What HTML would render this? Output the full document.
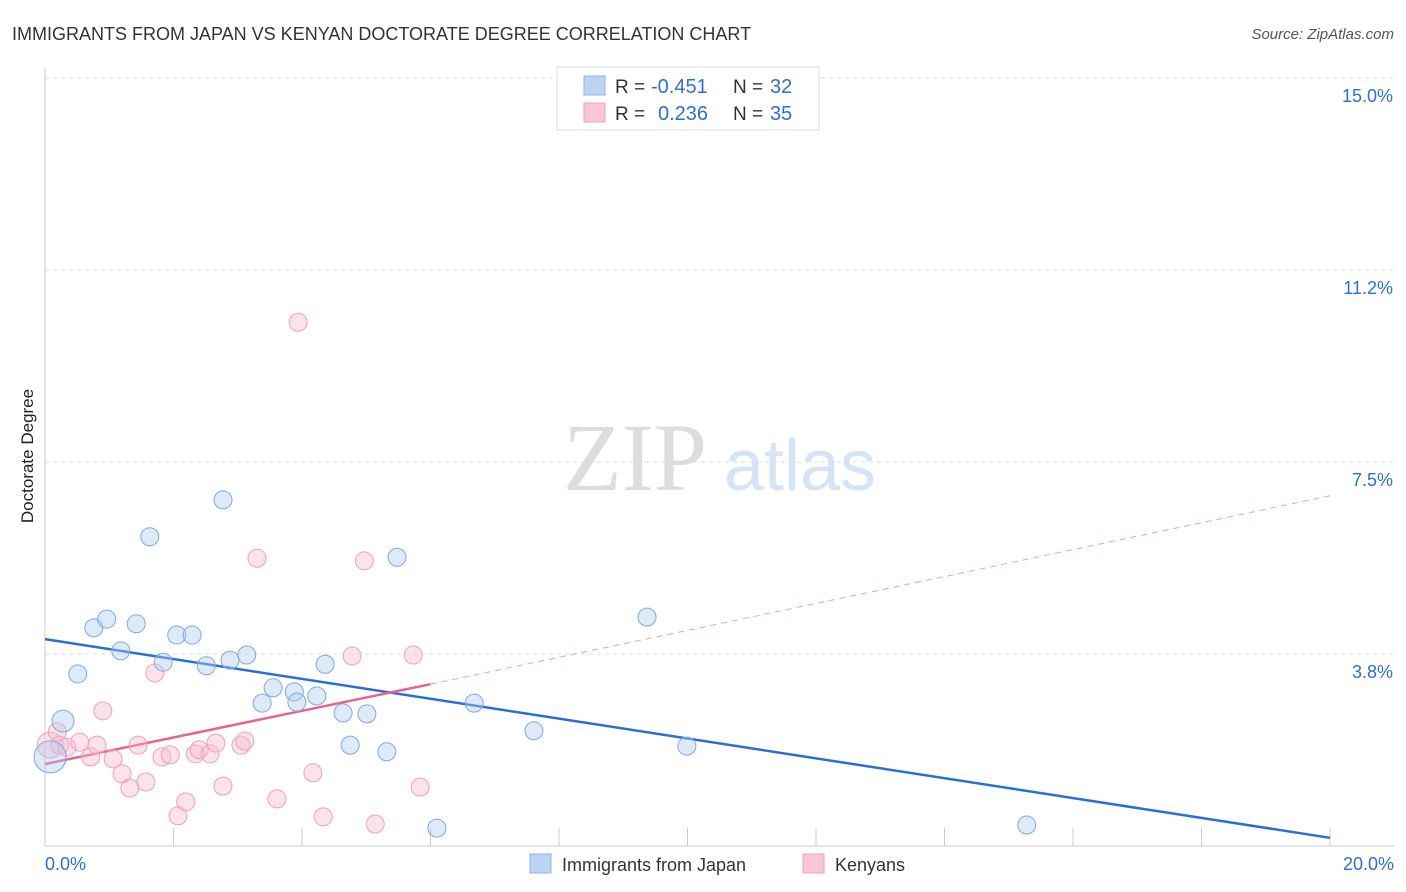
<!DOCTYPE html>
<html><head><meta charset="utf-8"><style>
body{margin:0;background:#fff;font-family:"Liberation Sans",sans-serif;}
svg{display:block}
</style></head><body>
<svg width="1406" height="892" id="chart">
<text x="12" y="40" font-size="18" fill="#333">IMMIGRANTS FROM JAPAN VS KENYAN DOCTORATE DEGREE CORRELATION CHART</text>
<text x="1394" y="39" font-size="15" fill="#555" font-style="italic" text-anchor="end">Source: ZipAtlas.com</text>
<text x="33" y="456" font-size="17" fill="#222" text-anchor="middle" transform="rotate(-90 33 456)">Doctorate Degree</text>
<g>
<text x="635" y="490" font-size="96" fill="#ddd" font-family="Liberation Serif" text-anchor="middle">ZIP</text>
<text x="800" y="490" font-size="72" fill="#d6e4f6" text-anchor="middle">atlas</text>
</g>
<g id="grid"></g><g id="axes"></g><g id="trends"></g><g id="pts"></g>
<g>
<rect x="557" y="67" width="262" height="63" fill="#fff" stroke="#ddd"/>
<rect x="584" y="76" width="21" height="19" fill="#bcd4f4" stroke="#8fb3e6"/>
<rect x="584" y="103" width="21" height="19" fill="#f9c6d5" stroke="#f0a0b8"/>
<text x="615" y="93" font-size="19" fill="#333">R =</text>
<text x="651" y="93" font-size="20" fill="#2f6fd0">-0.451</text>
<text x="733" y="93" font-size="19" fill="#333">N =</text>
<text x="770" y="93" font-size="20" fill="#2f6fd0">32</text>
<text x="615" y="120" font-size="19" fill="#333">R =</text>
<text x="658" y="120" font-size="20" fill="#2f6fd0">0.236</text>
<text x="733" y="120" font-size="19" fill="#333">N =</text>
<text x="770" y="120" font-size="20" fill="#2f6fd0">35</text>
</g>
<g>
<rect x="530" y="854" width="21" height="19" fill="#bcd4f4" stroke="#8fb3e6"/>
<text x="562" y="871" font-size="18" fill="#333">Immigrants from Japan</text>
<rect x="803" y="854" width="21" height="19" fill="#f9c6d5" stroke="#f0a0b8"/>
<text x="835" y="871" font-size="18" fill="#333">Kenyans</text>
</g>
</svg>
<script>
const yTicks=[3.75,7.5,11.25,15];
const yTickLabels=["3.8%","7.5%","11.2%","15.0%"];
const xTicks=[0,2,4,6,8,10,12,14,16,18,20];
const blueX=[0.08,0.28,0.51,0.76,0.96,1.18,1.42,1.63,1.84,2.05,2.29,2.51,2.77,2.88,3.14,3.38,3.55,3.88,3.92,4.23,4.36,4.64,4.75,5.01,5.32,5.48,6.10,6.68,7.61,9.37,9.99,15.28];
const blueY=[1.74,2.44,3.36,4.26,4.43,3.81,4.34,6.04,3.59,4.12,4.12,3.52,6.76,3.63,3.73,2.79,3.09,3.01,2.81,2.93,3.55,2.60,1.97,2.58,1.84,5.64,0.35,2.79,2.25,4.47,1.95,0.41];
const blueR=[16,11,9,9,9,9,9,9,9,9,9,9,9,9,9,9,9,9,9,9,9,9,9,9,9,9,9,9,9,9,9,9];
const pinkX=[0.08,0.19,0.23,0.34,0.54,0.71,0.81,0.90,1.06,1.20,1.32,1.45,1.57,1.71,1.82,1.95,2.07,2.19,2.34,2.40,2.57,2.66,2.77,3.05,3.11,3.30,3.61,3.94,4.17,4.33,4.78,4.97,5.14,5.73,5.84];
const pinkY=[1.97,2.23,1.97,1.93,2.03,1.74,1.97,2.64,1.70,1.41,1.13,1.97,1.25,3.38,1.74,1.78,0.59,0.86,1.80,1.88,1.80,2.01,1.17,1.97,2.05,5.62,0.92,10.23,1.43,0.57,3.71,5.57,0.43,3.73,1.15];
const pinkR=[13,9,9,9,9,9,9,9,9,9,9,9,9,9,9,9,9,9,9,9,9,9,9,9,9,9,9,9,9,9,9,9,9,9,9];
const blueTrendX=[0,20], blueTrendY=[4.04,0.16];
const pinkTrendX=[0,6,20], pinkTrendY=[1.60,3.16,6.84];
const NS="http://www.w3.org/2000/svg";
const xs=v=>45+v*64.25, ys=v=>846-v*51.2;
function mk(tag,attrs,parent){const e=document.createElementNS(NS,tag);for(const k in attrs)e.setAttribute(k,attrs[k]);document.getElementById(parent).appendChild(e);return e;}
yTicks.forEach((t,i)=>{
 const l=mk('line',{x1:45,x2:1394,y1:ys(t),y2:ys(t),stroke:'#ddd','stroke-dasharray':'4,4'},'grid');
 
 
 const tx=mk('text',{x:1393,y:ys(t)+24,'font-size':18,fill:'#2f6fd0','text-anchor':'end'},'grid');
 tx.textContent=yTickLabels[i];
 
 
});
const ax=mk('line',{x1:45,x2:45,y1:68,y2:846,stroke:'#ccc'},'axes');


const bx=mk('line',{x1:45,x2:1394,y1:846,y2:846,stroke:'#ccc'},'axes');


xTicks.forEach(t=>{const l=mk('line',{x1:xs(t),x2:xs(t),y1:828,y2:846,stroke:'#ccc'},'axes');
 
 });
[[0,"0.0%","start",45],[20,"20.0%","end",1394]].forEach(a=>{const t=mk('text',{x:a[3],y:870,'font-size':18,fill:'#2f6fd0','text-anchor':a[2]},'axes');t.textContent=a[1];
 
 });
function pts(X,Y,R,fill,stroke,name){X.forEach((x,i)=>{const c=mk('circle',{cx:xs(x),cy:ys(Y[i]),r:R[i],fill:fill,stroke:stroke,'stroke-width':1},'pts');
 
 });}
pts(pinkX,pinkY,pinkR,'rgba(248,185,206,0.4)','#ef9fba','kenyans-point');
pts(blueX,blueY,blueR,'rgba(175,202,240,0.4)','#7fa8e0','japan-point');
const bt=mk('line',{x1:xs(blueTrendX[0]),y1:ys(blueTrendY[0]),x2:xs(blueTrendX[1]),y2:ys(blueTrendY[1]),stroke:'#2a6fd6','stroke-width':2.5},'trends');


const pt=mk('line',{x1:xs(pinkTrendX[0]),y1:ys(pinkTrendY[0]),x2:xs(pinkTrendX[1]),y2:ys(pinkTrendY[1]),stroke:'#e8638f','stroke-width':2.5},'trends');


const pd=mk('line',{x1:xs(pinkTrendX[1]),y1:ys(pinkTrendY[1]),x2:xs(pinkTrendX[2]),y2:ys(pinkTrendY[2]),stroke:'#e8a0b8','stroke-width':1,'stroke-dasharray':'6,5'},'trends');


</script>
</body></html>
